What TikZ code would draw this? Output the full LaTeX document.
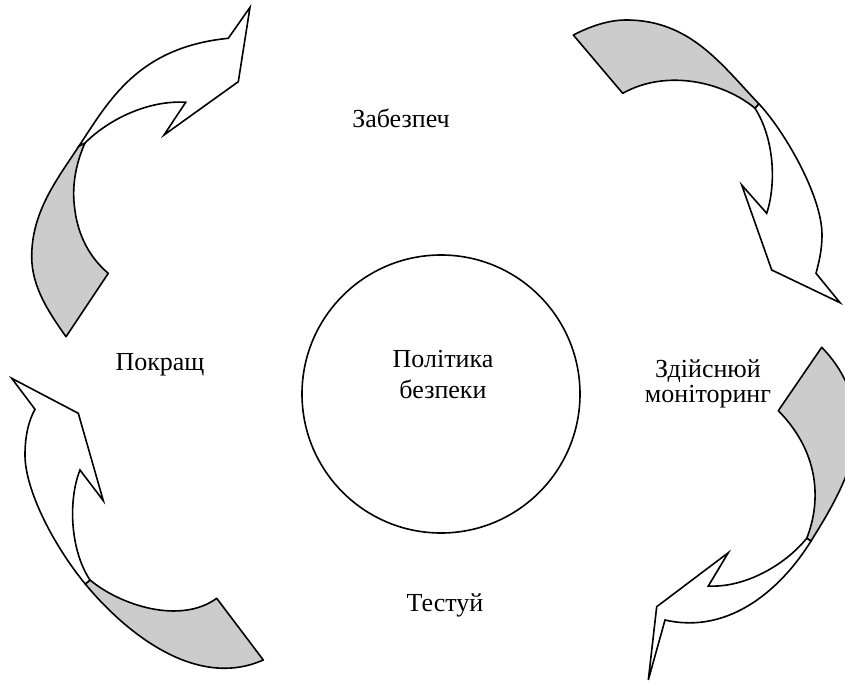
\documentclass[tikz,border=0pt]{standalone}
\usepackage{fontspec}
\setmainfont{Liberation Serif}

\begin{document}
\begin{tikzpicture}[
    x=1pt, y=-1pt,
    back_band/.style={draw=black, line width=1.6pt, fill=black!20, line join=round},
    front_band/.style={draw=black, line width=1.6pt, fill=white, line join=miter},
    policy_node/.style={circle, draw=black, line width=1.6pt, minimum size=278pt, inner sep=0pt},
    step_label/.style={anchor=base, inner sep=0pt, font=\fontsize{26}{30}\selectfont}
]
    \clip (0,0) rectangle (845,684);

    % =========================================================================
    % CENTRE: POLICY CIRCLE
    % =========================================================================
    \node [policy_node] (policy) at (441,394) {};
    \node [step_label] (policy_a) at (443,367) {Політика};
    \node [step_label] (policy_b) at (443,398) {безпеки};

    % =========================================================================
    % TOP-LEFT ARROW (upwards, to the right)
    % =========================================================================
    \filldraw [back_band] (66,336.7) .. controls (48.6,312.1) and (31.7,286.7) .. (31.7,256.7)
        .. controls (31.7,211.7) and (57,179.4) .. (79,146)
        -- (85,143)
        .. controls (76,163) and (72,185) .. (74.3,205)
        .. controls (77,235) and (90,258) .. (108.3,273.3)
        -- cycle;
    \filldraw [front_band] (79,146) .. controls (109.3,100.1) and (138.3,47.3) .. (228.3,38.3)
        -- (250,7.3) -- (238.3,81.7) -- (164,135) -- (185.7,102.3)
        .. controls (150,100) and (110,118) .. (85,143)
        -- cycle;

    % =========================================================================
    % TOP-RIGHT ARROW (downwards)
    % =========================================================================
    \filldraw [back_band] (573.3,35) .. controls (590,26.5) and (608,20) .. (626,20)
        .. controls (690,20) and (721,64) .. (759,104)
        -- (755,108.3)
        .. controls (725,83) and (668,68) .. (622.7,93.3)
        -- cycle;
    \filldraw [front_band] (759,104) .. controls (783.1,129.4) and (822,195) .. (822,235)
        .. controls (822,250) and (819,262) .. (816,273.3)
        -- (840,302.7) -- (771.7,270) -- (741.7,185) -- (766.7,213.3)
        .. controls (776,185) and (775,140) .. (755,108.3)
        -- cycle;

    % =========================================================================
    % BOTTOM-RIGHT ARROW (downwards, to the left)
    % =========================================================================
    \filldraw [back_band] (821.7,347.3) .. controls (842,368) and (856,395) .. (856,430)
        .. controls (856,470) and (826.8,515.5) .. (811,541)
        -- (806.7,538.3)
        .. controls (820,505) and (822,455) .. (778.3,410.7)
        -- cycle;
    \filldraw [front_band] (811,541) .. controls (782.1,587.8) and (730,635) .. (665,620)
        -- (648.3,680) -- (656.7,606.7) -- (728.3,552.7) -- (708.3,586)
        .. controls (745,588) and (785,565) .. (806.7,538.3)
        -- cycle;

    % =========================================================================
    % BOTTOM-LEFT ARROW (upwards)
    % =========================================================================
    \filldraw [back_band] (263.3,660) .. controls (194.7,690.4) and (123.5,630.3) .. (85.3,584)
        -- (90,580)
        .. controls (120,605) and (180,625) .. (216.7,598.3)
        -- cycle;
    \filldraw [front_band] (85.3,584) .. controls (53.5,545.4) and (25,490) .. (25,455)
        .. controls (25,435) and (29,420) .. (35,409.3)
        -- (11.7,378.3) -- (78.3,413.3) -- (103.3,500.7) -- (80,470)
        .. controls (68,500) and (70,550) .. (90,580)
        -- cycle;

    % =========================================================================
    % STEP LABELS
    % =========================================================================
    \node [step_label] (secure) at (401,128) {Забезпеч};
    \node [step_label] (monitor_a) at (708,377) {Здійснюй};
    \node [step_label] (monitor_b) at (708,402) {моніторинг};
    \node [step_label] (test) at (445,611) {Тестуй};
    \node [step_label] (improve) at (160,370) {Покращ};
\end{tikzpicture}
\end{document}
